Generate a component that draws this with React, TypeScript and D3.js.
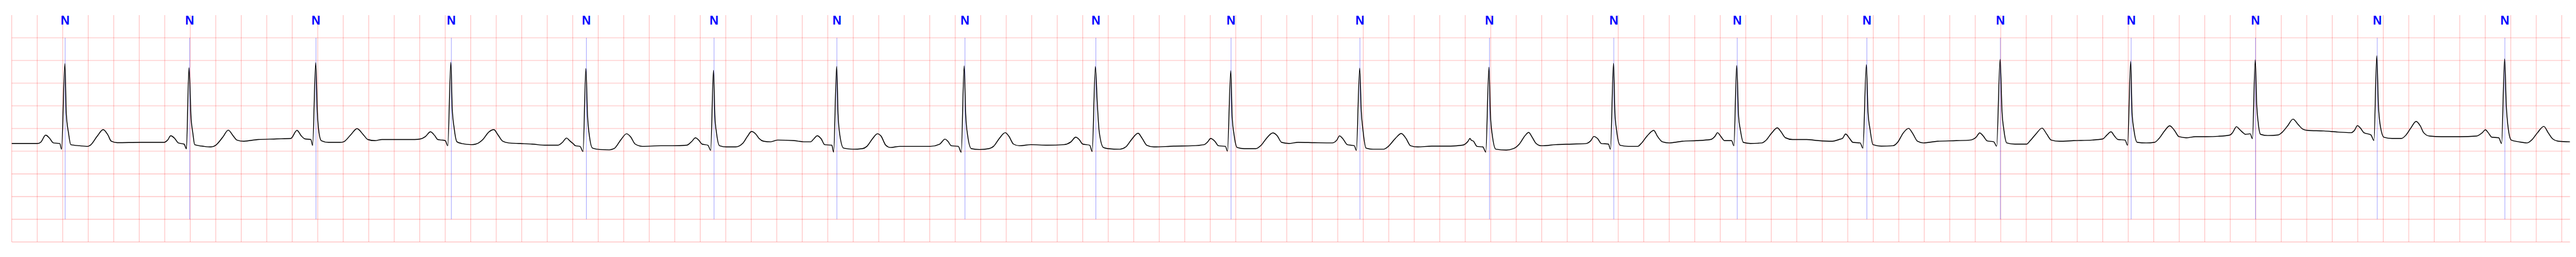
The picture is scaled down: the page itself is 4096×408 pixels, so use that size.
import * as d3 from "d3";
import { useRef, useEffect } from "react";

// annotated beats (seconds) and their symbols
const beatTimes = [
  0.419, 1.396, 2.386, 3.448, 4.507, 5.508, 6.472, 7.476, 8.503, 9.563,
  10.574, 11.59, 12.565, 13.533, 14.55, 15.597, 16.623, 17.598, 18.553, 19.554,
];
const beatSymbols = [
  "N", "N", "N", "N", "N", "N", "N", "N", "N", "N",
  "N", "N", "N", "N", "N", "N", "N", "N", "N", "N",
];

// trace start, [seconds, mV]
const leadIn = [[0, -0.33]];

// each beat: [ms from annotation, mV]
const beatWaves = [
  [[-217, -0.33], [-190, -0.297], [-153, -0.146], [-125, -0.204], [-92, -0.317], [-42, -0.33], [-28, -0.456], [-2, 1.433], [9, 0.325], [26, -0.091], [44, -0.355], [114, -0.38], [178, -0.393], [197, -0.368], [252, -0.166], [298, -0.023], [335, -0.141], [362, -0.28], [408, -0.312], [592, -0.305], [776, -0.305]],
  [[-173, -0.254], [-149, -0.159], [-118, -0.217], [-90, -0.317], [-44, -0.343], [-26, -0.448], [-6, 1.34], [11, 0.212], [24, -0.091], [39, -0.355], [112, -0.393], [167, -0.406], [204, -0.368], [259, -0.191], [302, -0.035], [342, -0.166], [370, -0.254], [425, -0.28], [535, -0.242], [683, -0.229], [793, -0.217]],
  [[-149, -0.04], [-114, -0.166], [-86, -0.229], [-40, -0.242], [-26, -0.373], [-2, 1.451], [11, 0.35], [24, -0.091], [42, -0.267], [98, -0.305], [189, -0.305], [217, -0.292], [272, -0.141], [322, -0.003], [373, -0.141], [407, -0.242], [462, -0.267], [517, -0.242], [627, -0.242], [775, -0.242]],
  [[-241, -0.229], [-204, -0.179], [-164, -0.073], [-131, -0.154], [-107, -0.242], [-75, -0.254], [-48, -0.267], [-28, -0.38], [-4, 1.458], [7, 0.438], [22, 0.01], [44, -0.292], [81, -0.33], [155, -0.355], [191, -0.343], [247, -0.242], [293, -0.078], [333, -0.023], [366, -0.141], [403, -0.28], [449, -0.317], [541, -0.33], [633, -0.343], [743, -0.368], [835, -0.368]],
  [[-188, -0.305], [-155, -0.209], [-132, -0.267], [-105, -0.33], [-86, -0.38], [-50, -0.393], [-26, -0.506], [-4, 1.325], [9, 0.287], [24, -0.166], [48, -0.431], [107, -0.463], [180, -0.469], [217, -0.443], [272, -0.242], [315, -0.116], [346, -0.179], [383, -0.343], [438, -0.393], [585, -0.38], [677, -0.38], [787, -0.368]],
  [[-177, -0.292], [-145, -0.204], [-121, -0.254], [-94, -0.343], [-48, -0.368], [-26, -0.481], [-4, 1.282], [7, 0.262], [20, -0.103], [44, -0.38], [99, -0.406], [169, -0.406], [224, -0.33], [261, -0.179], [294, -0.065], [326, -0.116], [353, -0.217], [390, -0.28], [445, -0.292], [500, -0.254], [629, -0.267], [703, -0.292], [758, -0.292]],
  [[-178, -0.217], [-155, -0.159], [-123, -0.229], [-96, -0.355], [-40, -0.368], [-26, -0.519], [-2, 1.37], [9, 0.312], [24, -0.166], [52, -0.431], [125, -0.456], [199, -0.443], [235, -0.393], [281, -0.217], [318, -0.116], [346, -0.166], [383, -0.368], [419, -0.418], [493, -0.393], [603, -0.393], [732, -0.393], [806, -0.343]],
  [[-156, -0.234], [-134, -0.28], [-107, -0.38], [-52, -0.393], [-29, -0.524], [-6, 1.383], [6, 0.312], [22, -0.166], [50, -0.443], [114, -0.463], [188, -0.443], [224, -0.393], [270, -0.217], [316, -0.091], [344, -0.166], [381, -0.343], [427, -0.38], [519, -0.355], [648, -0.368], [776, -0.355], [832, -0.292]],
  [[-158, -0.191], [-131, -0.242], [-103, -0.343], [-48, -0.368], [-29, -0.506], [-4, 1.365], [11, 0.564], [26, -0.065], [59, -0.418], [96, -0.443], [188, -0.456], [234, -0.406], [280, -0.242], [331, -0.103], [363, -0.217], [399, -0.368], [455, -0.406], [611, -0.388], [758, -0.38], [850, -0.355]],
  [[-182, -0.292], [-160, -0.217], [-127, -0.28], [-99, -0.38], [-44, -0.393], [-28, -0.499], [-2, 1.275], [9, 0.262], [24, -0.141], [48, -0.418], [103, -0.443], [195, -0.443], [232, -0.38], [278, -0.217], [328, -0.096], [361, -0.154], [397, -0.305], [453, -0.33], [526, -0.305], [655, -0.312], [793, -0.317], [830, -0.254]],
  [[-160, -0.161], [-136, -0.217], [-99, -0.355], [-44, -0.38], [-28, -0.481], [-2, 1.332], [11, 0.363], [24, -0.04], [48, -0.431], [103, -0.456], [186, -0.456], [223, -0.393], [278, -0.217], [324, -0.111], [361, -0.217], [397, -0.38], [453, -0.406], [563, -0.388], [710, -0.388], [802, -0.368], [848, -0.28]],
  [[-153, -0.217], [-144, -0.254], [-125, -0.28], [-98, -0.393], [-52, -0.406], [-29, -0.519], [-4, 1.35], [7, 0.338], [22, -0.141], [50, -0.456], [132, -0.474], [188, -0.443], [234, -0.343], [280, -0.154], [307, -0.086], [335, -0.191], [362, -0.317], [408, -0.38], [519, -0.355], [648, -0.343], [758, -0.33], [795, -0.267]],
  [[-156, -0.174], [-125, -0.229], [-98, -0.33], [-42, -0.343], [-26, -0.456], [-2, 1.438], [9, 0.338], [22, -0.04], [50, -0.368], [114, -0.393], [188, -0.393], [215, -0.33], [261, -0.166], [313, -0.04], [344, -0.179], [381, -0.292], [436, -0.317], [537, -0.28], [648, -0.267], [758, -0.242], [795, -0.166]],
  [[-155, -0.091], [-127, -0.179], [-99, -0.267], [-44, -0.267], [-26, -0.38], [-4, 1.39], [11, 0.262], [24, -0.015], [48, -0.305], [103, -0.33], [195, -0.317], [223, -0.267], [269, -0.103], [315, 0.015], [342, -0.065], [379, -0.204], [434, -0.242], [545, -0.242], [637, -0.267], [747, -0.28]],
  [[-219, -0.242], [-191, -0.217], [-167, -0.121], [-136, -0.217], [-109, -0.305], [-53, -0.317], [-31, -0.431], [-4, 1.408], [9, 0.363], [26, -0.04], [48, -0.355], [112, -0.388], [204, -0.38], [241, -0.305], [287, -0.091], [327, 0.003], [361, -0.116], [397, -0.28], [443, -0.317], [554, -0.28], [701, -0.267], [811, -0.254], [857, -0.191]],
  [[-162, -0.096], [-134, -0.166], [-103, -0.272], [-52, -0.292], [-29, -0.388], [-2, 1.526], [13, 0.375], [28, -0.04], [50, -0.317], [114, -0.343], [206, -0.343], [234, -0.267], [280, -0.116], [327, 0.01], [362, -0.116], [399, -0.254], [464, -0.28], [574, -0.267], [721, -0.254], [804, -0.229], [832, -0.154]],
  [[-158, -0.073], [-131, -0.166], [-103, -0.242], [-48, -0.254], [-28, -0.368], [-4, 1.481], [7, 0.35], [22, -0.04], [48, -0.305], [118, -0.317], [182, -0.305], [219, -0.217], [265, -0.04], [302, 0.06], [339, -0.04], [375, -0.179], [431, -0.204], [504, -0.179], [592, -0.179], [684, -0.171], [776, -0.141]],
  [[-180, -0.091], [-149, 0.04], [-125, -0.02], [-98, -0.091], [-79, -0.128], [-42, -0.116], [-24, -0.222], [-2, 1.516], [9, 0.564], [22, 0.111], [40, -0.128], [96, -0.154], [178, -0.141], [206, -0.091], [252, 0.06], [294, 0.207], [335, 0.086], [372, -0.015], [408, -0.04], [537, -0.053], [648, -0.078], [749, -0.091], [776, -0.04]],
  [[-155, 0.065], [-132, 0.01], [-105, -0.091], [-50, -0.141], [-26, -0.262], [-4, 1.605], [9, 0.514], [24, 0.06], [52, -0.191], [116, -0.217], [190, -0.217], [226, -0.141], [263, 0.01], [305, 0.156], [337, 0.06], [364, -0.091], [410, -0.166], [502, -0.179], [649, -0.179], [778, -0.166], [824, -0.091]],
  [[-153, -0.028], [-131, -0.091], [-103, -0.191], [-48, -0.204], [-26, -0.33], [-2, 1.534], [11, 0.514], [26, 0.01], [50, -0.254], [109, -0.292], [173, -0.317], [210, -0.254], [256, -0.091], [305, 0.048], [339, -0.091], [375, -0.229], [421, -0.28], [510, -0.292]],
];

// grid
const duration = 20.065;
const gridTimes = d3.range(0, 20.0001, 0.2);
const gridValues = [2.0, 1.5, 1.0, 0.5, 0, -0.5, -1.0, -1.5, -2.0, -2.5];
const annotTop = 2.0;
const annotBottom = -2.0;

const App = () => {
  const container = useRef(null);

  useEffect(() => {
    drawChart();
  });

  const drawChart = () => {
    const k = 0.544;
    const dims = { width: 4096, height: 408 };
    const plot = { l: 34.3 * k, r: 7512 * k, t: 44.1 * k, b: 706.1 * k };

    const trace = [
      ...leadIn,
      ...beatWaves.flatMap((wave, i) =>
        wave.map((p) => [beatTimes[i] + p[0] / 1000, p[1]])
      ),
    ];

    const xScale = d3.scaleLinear().domain([0, duration]).range([plot.l, plot.r]);
    const yScale = d3.scaleLinear().domain([-2.5, 2.5]).range([plot.b, plot.t]);

    const svg = d3
      .select(container.current)
      .selectAll("svg")
      .data([0])
      .join("svg")
      .attr("width", dims.width)
      .attr("height", dims.height)
      .style("position", "fixed")
      .style("left", 0)
      .style("top", 0)
      .style("background", "#fff");

    // horizontal grid
    svg
      .selectAll(".hgrid")
      .data(gridValues)
      .join("line")
      .attr("class", "hgrid")
      .attr("x1", xScale(0))
      .attr("x2", xScale(duration))
      .attr("y1", (d) => yScale(d))
      .attr("y2", (d) => yScale(d))
      .attr("stroke", "red")
      .attr("stroke-opacity", 0.25)
      .attr("stroke-width", 1.1);

    // vertical grid
    svg
      .selectAll(".vgrid")
      .data(gridTimes)
      .join("line")
      .attr("class", "vgrid")
      .attr("x1", (d) => xScale(d))
      .attr("x2", (d) => xScale(d))
      .attr("y1", yScale(2.5))
      .attr("y2", yScale(-2.5))
      .attr("stroke", "red")
      .attr("stroke-opacity", 0.25)
      .attr("stroke-width", 1.1);

    // annotation markers
    svg
      .selectAll(".annot-line")
      .data(beatTimes)
      .join("line")
      .attr("class", "annot-line")
      .attr("x1", (d) => xScale(d))
      .attr("x2", (d) => xScale(d))
      .attr("y1", yScale(annotTop))
      .attr("y2", yScale(annotBottom))
      .attr("stroke", "blue")
      .attr("stroke-opacity", 0.5)
      .attr("stroke-width", 0.7);

    svg
      .selectAll(".annot-label")
      .data(beatTimes)
      .join("text")
      .attr("class", "annot-label")
      .attr("x", (d) => xScale(d))
      .attr("y", 71.5 * k)
      .attr("text-anchor", "middle")
      .attr("fill", "blue")
      .style("font-family", "'Liberation Sans', Arial, sans-serif")
      .style("font-weight", "bold")
      .style("font-size", `${36 * k}px`)
      .text((d, i) => beatSymbols[i]);

    // ecg trace
    svg
      .selectAll(".ecg-line")
      .data([trace])
      .join("path")
      .attr("class", "ecg-line")
      .attr(
        "d",
        d3
          .line()
          .x((d) => xScale(d[0]))
          .y((d) => yScale(d[1]))
          .curve(d3.curveMonotoneX)
      )
      .attr("fill", "none")
      .attr("stroke", "black")
      .attr("stroke-width", 1.4)
      .attr("stroke-linejoin", "round");

    return;
  };

  return <div ref={container}></div>;
};

export default App;
